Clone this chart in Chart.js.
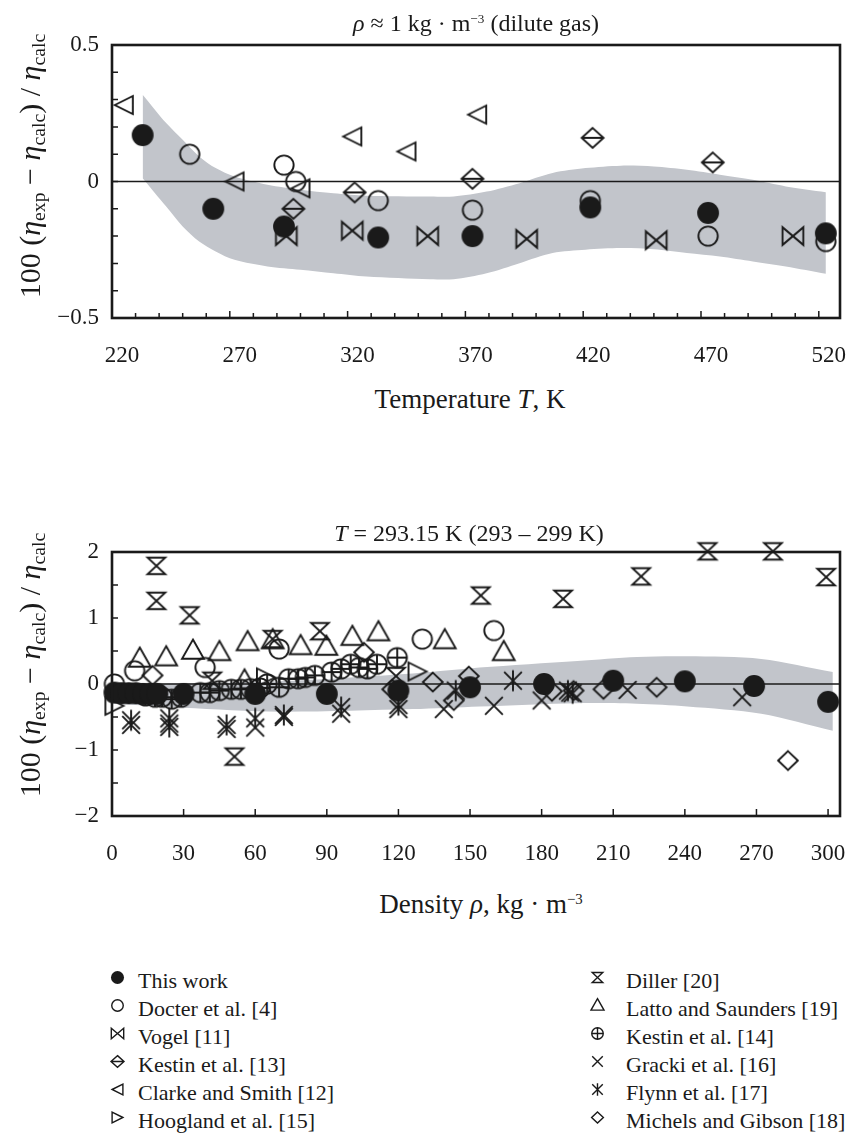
<!DOCTYPE html>
<html>
<head>
<meta charset="utf-8">
<script src="https://cdn.jsdelivr.net/npm/chart.js@4.4.1/dist/chart.umd.min.js"></script>
<style>
  body { margin: 0; background: #fff; }
  #wrap { position: relative; width: 849px; height: 1139px; font-family: 'Liberation Serif', 'Times New Roman', serif; color: #1a1a1a; overflow: hidden; }
  #wrap canvas.chart { position: absolute; left: 0; }
  .lbl { position: absolute; white-space: nowrap; transform: translate(-50%, -50%); line-height: 1; }
  .rot { transform: translate(-50%, -50%) rotate(-90deg); }
  sub, sup { font-size: 66%; line-height: 0; }
  sub { vertical-align: -0.25em; }
  sup { vertical-align: 0.6em; font-size: 55%; }
  .leg { position: absolute; font-size: 22px; line-height: 1; white-space: nowrap; }
</style>
</head>
<body>
<div id="wrap">
  <canvas id="c-top" class="chart" width="849" height="380" style="top:0;width:849px;height:380px;"></canvas>
  <canvas id="c-bot" class="chart" width="849" height="380" style="top:500px;width:849px;height:380px;"></canvas>

  <div class="lbl" style="left:476px;top:23px;font-size:24px;"><i>ρ</i> ≈ 1 kg · m<sup>−3</sup> (dilute gas)</div>
  <div class="lbl rot" style="left:30px;top:166px;font-size:30px;">100 (<i>η</i><sub>exp</sub> − <i>η</i><sub>calc</sub>) / <i>η</i><sub>calc</sub></div>
  <div class="lbl" style="left:470px;top:399px;font-size:27px;">Temperature <i>T</i>, K</div>

  <div class="lbl" style="left:469px;top:533px;font-size:24px;"><i>T</i> = 293.15 K (293 – 299 K)</div>
  <div class="lbl rot" style="left:30px;top:665px;font-size:30px;">100 (<i>η</i><sub>exp</sub> − <i>η</i><sub>calc</sub>) / <i>η</i><sub>calc</sub></div>
  <div class="lbl" style="left:481px;top:904px;font-size:27px;">Density <i>ρ</i>, kg · m<sup>−3</sup></div>

  <div id="legend"></div>
</div>

<script>
// ── Panel 1: dilute gas, deviations vs temperature ────────────────────────────
const T_WORK    = [233, 263, 293, 333, 373, 423, 473, 523];
const D_WORK_T  = [0.17, -0.10, -0.165, -0.205, -0.20, -0.095, -0.115, -0.19];
const T_DOCTER  = [253, 293, 298, 333, 373, 423, 473, 523];
const D_DOCTER_T = [0.10, 0.06, 0.0, -0.07, -0.105, -0.07, -0.20, -0.22];
const T_VOGEL   = [294, 322, 354, 396, 451, 509];
const D_VOGEL   = [-0.20, -0.18, -0.20, -0.21, -0.215, -0.20];
const T_KES13   = [297, 323, 373, 424, 475];
const D_KES13   = [-0.10, -0.04, 0.01, 0.16, 0.07];
const T_CLARKE  = [225, 272, 300, 322, 345, 375];
const D_CLARKE  = [0.28, 0.0, -0.025, 0.165, 0.11, 0.245];

const BAND_T    = [233, 243, 250, 257, 264, 272, 286, 300, 314, 328, 355, 365, 379, 393, 407, 421, 436, 450, 464, 478, 492, 506, 523];
const BAND_T_UP = [0.318, 0.214, 0.153, 0.092, 0.049, 0.018, -0.012, -0.03, -0.043, -0.052, -0.055, -0.055, -0.037, -0.006, 0.031, 0.049, 0.058, 0.055, 0.043, 0.025, 0.006, -0.018, -0.039];
const BAND_T_LO = [0.012, -0.092, -0.165, -0.22, -0.256, -0.287, -0.311, -0.323, -0.336, -0.348, -0.358, -0.358, -0.336, -0.299, -0.262, -0.25, -0.244, -0.248, -0.262, -0.275, -0.293, -0.311, -0.338];

// ── Panel 2: T = 293.15 K, deviations vs density ──────────────────────────────
const R_WORK    = [1, 4, 7, 10, 13, 16, 19, 30, 60, 90, 120, 150, 181, 210, 240, 269, 300];
const D_WORK_R  = [-0.13, -0.14, -0.14, -0.14, -0.15, -0.15, -0.15, -0.15, -0.15, -0.15, -0.10, -0.05, 0.0, 0.05, 0.04, -0.03, -0.27];
const R_DOCTER  = [1, 9.5, 39, 70, 130, 160];
const D_DOCTER_R = [0.0, 0.2, 0.25, 0.53, 0.68, 0.81];
const R_DILLER  = [18.6, 18.6, 32.5, 42, 51.3, 67.3, 87.1, 119, 154.5, 189, 221.7, 249.5, 276.9, 299.2];
const D_DILLER  = [1.79, 1.26, 1.04, 0.05, -1.10, 0.68, 0.80, 0.12, 1.34, 1.29, 1.63, 2.01, 2.01, 1.62];
const R_LATTO   = [11.6, 22.7, 33.9, 45, 55.5, 56.8, 67.3, 79, 89.8, 100.7, 111.6, 139.4, 164.1];
const D_LATTO   = [0.38, 0.40, 0.50, 0.48, 0.05, 0.63, 0.66, 0.57, 0.56, 0.71, 0.78, 0.66, 0.48];
const R_KES14   = [14, 18, 21, 25, 29, 37, 41, 45, 50, 54, 58, 62, 65, 70, 74, 78, 81, 85, 92, 96, 100, 103.5, 107, 111, 119.5];
const D_KES14   = [-0.18, -0.2, -0.2, -0.23, -0.2, -0.13, -0.13, -0.1, -0.08, -0.08, -0.07, -0.06, 0.0, -0.05, 0.08, 0.08, 0.1, 0.13, 0.18, 0.23, 0.3, 0.25, 0.23, 0.3, 0.4];
const R_GRACKI  = [8, 24, 48, 60, 72, 96, 120, 139, 160, 180, 192, 216, 264];
const D_GRACKI  = [-0.62, -0.6, -0.68, -0.66, -0.5, -0.45, -0.38, -0.38, -0.33, -0.25, -0.13, -0.09, -0.2];
const R_FLYNN   = [8, 24, 24, 48, 60, 72, 96, 120, 144, 168, 191, 193];
const D_FLYNN   = [-0.55, -0.52, -0.65, -0.62, -0.52, -0.47, -0.35, -0.32, -0.1, 0.05, -0.1, -0.14];
const R_MICHELS = [17, 105.6, 117.4, 134.4, 143.2, 149.5, 184.3, 193.4, 205.9, 228.2, 283.2];
const D_MICHELS = [0.13, 0.48, -0.08, 0.03, -0.25, 0.12, -0.11, -0.1, -0.08, -0.05, -1.16];
const R_HOOG    = [1, 64.5, 128];
const D_HOOG    = [-0.33, 0.1, 0.19];

const BAND_R    = [1, 30, 70, 126, 154, 195, 220, 241, 272, 302];
const BAND_R_UP = [0.0, 0.01, 0.04, 0.16, 0.25, 0.35, 0.41, 0.42, 0.38, 0.18];
const BAND_R_LO = [-0.30, -0.36, -0.42, -0.38, -0.34, -0.29, -0.30, -0.34, -0.45, -0.71];

const LEG_LEFT  = [['fcircle', 'This work'], ['ocircle', 'Docter et al. [4]'], ['bowtie', 'Vogel [11]'],
                   ['diamondBar', 'Kestin et al. [13]'], ['ltri', 'Clarke and Smith [12]'], ['rtri', 'Hoogland et al. [15]']];
const LEG_RIGHT = [['hourglass', 'Diller [20]'], ['utri', 'Latto and Saunders [19]'], ['cplus', 'Kestin et al. [14]'],
                   ['x', 'Gracki et al. [16]'], ['ast', 'Flynn et al. [17]'], ['diamond', 'Michels and Gibson [18]']];

const INK = '#1a1a1a';
const BAND = '#c2c5cb';
const SERIF = "'Liberation Serif', 'Times New Roman', serif";

const pts = (xs, ys) => xs.map((x, i) => ({ x, y: ys[i] }));
const minus = v => Math.abs(v) < 1e-9 ? '0' : (v < 0 ? '−' + String(Math.abs(v)) : String(v));
const near = (a) => Math.abs(a - Math.round(a)) < 1e-6;

// Marker glyphs, drawn once into small canvases and used as pointStyle
function sym(kind, k, lw) {
  const d = Math.ceil(28 * k + lw + 2);
  const c = document.createElement('canvas');
  c.width = c.height = d;
  const g = c.getContext('2d');
  g.translate(d / 2, d / 2);
  g.strokeStyle = INK; g.fillStyle = INK; g.lineWidth = lw;
  g.beginPath();
  let w, h, r;
  switch (kind) {
    case 'fcircle': g.arc(0, 0, 10.5 * k, 0, Math.PI * 2); g.fill(); return c;
    case 'ocircle': g.arc(0, 0, 9.3 * k, 0, Math.PI * 2); break;
    case 'ltri': w = 8.7 * k; g.moveTo(-w, 0); g.lineTo(w, -w); g.lineTo(w, w); g.closePath(); break;
    case 'rtri': w = 8.7 * k; g.moveTo(w, 0); g.lineTo(-w, -w); g.lineTo(-w, w); g.closePath(); break;
    case 'utri': g.moveTo(0, -11 * k); g.lineTo(10.5 * k, 7.5 * k); g.lineTo(-10.5 * k, 7.5 * k); g.closePath(); break;
    case 'bowtie': w = 10 * k; h = 8.5 * k; g.moveTo(-w, -h); g.lineTo(-w, h); g.lineTo(w, -h); g.lineTo(w, h); g.closePath(); break;
    case 'hourglass': w = 8.5 * k; h = 8 * k; g.moveTo(-w, -h); g.lineTo(w, -h); g.lineTo(-w, h); g.lineTo(w, h); g.closePath(); break;
    case 'diamondBar': w = 10.5 * k; h = 9.5 * k; g.moveTo(0, -h); g.lineTo(w, 0); g.lineTo(0, h); g.lineTo(-w, 0); g.closePath(); g.moveTo(-w, 0); g.lineTo(w, 0); break;
    case 'diamond': w = 9.5 * k; h = 9 * k; g.moveTo(0, -h); g.lineTo(w, 0); g.lineTo(0, h); g.lineTo(-w, 0); g.closePath(); break;
    case 'cplus': r = 9.3 * k; g.arc(0, 0, r, 0, Math.PI * 2); g.moveTo(-r, 0); g.lineTo(r, 0); g.moveTo(0, -r); g.lineTo(0, r); break;
    case 'x': w = 8.5 * k; g.moveTo(-w, -w); g.lineTo(w, w); g.moveTo(w, -w); g.lineTo(-w, w); break;
    case 'ast': w = 8.5 * k; g.moveTo(-w, -w); g.lineTo(w, w); g.moveTo(w, -w); g.lineTo(-w, w); g.moveTo(0, -10 * k); g.lineTo(0, 10 * k); break;
  }
  g.stroke();
  return c;
}

const MARK = {};
['fcircle', 'ocircle', 'ltri', 'rtri', 'utri', 'bowtie', 'hourglass', 'diamondBar', 'diamond', 'cplus', 'x', 'ast']
  .forEach(k => { MARK[k] = sym(k, 1.04, 1.9); });

// Frame, inward ticks and zero line
const framePlugin = {
  id: 'frame',
  beforeDatasetsDraw(chart) {
    const { ctx, chartArea: a, scales: { y } } = chart;
    const py = y.getPixelForValue(0);
    ctx.save();
    ctx.strokeStyle = INK; ctx.lineWidth = 1.6;
    ctx.beginPath(); ctx.moveTo(a.left, py); ctx.lineTo(a.right, py); ctx.stroke();
    ctx.restore();
  },
  afterDraw(chart) {
    const { ctx, chartArea: a, scales: { x, y } } = chart;
    ctx.save();
    ctx.strokeStyle = INK; ctx.lineWidth = 1.5;
    ctx.beginPath();
    x.ticks.forEach(t => {
      const px = x.getPixelForValue(t.value), len = t.label ? 7 : 5;
      ctx.moveTo(px, a.bottom); ctx.lineTo(px, a.bottom - len);
    });
    y.ticks.forEach(t => {
      const py = y.getPixelForValue(t.value);
      ctx.moveTo(a.left, py); ctx.lineTo(a.left + 6, py);
    });
    ctx.stroke();
    ctx.lineWidth = 2.6;
    ctx.strokeRect(a.left, a.top, a.right - a.left, a.bottom - a.top);
    ctx.restore();
  }
};

Chart.defaults.font.family = SERIF;
Chart.defaults.color = INK;

function bandSets(xs, up, lo) {
  return [
    { type: 'line', data: pts(xs, up), borderColor: 'rgba(0,0,0,0)', borderWidth: 0, pointRadius: 0,
      fill: '+1', backgroundColor: BAND, tension: 0.3, order: 20 },
    { type: 'line', data: pts(xs, lo), borderColor: 'rgba(0,0,0,0)', borderWidth: 0, pointRadius: 0,
      fill: false, tension: 0.3, order: 21 },
  ];
}

function series(xs, ys, kind, order) {
  return { data: pts(xs, ys), pointStyle: MARK[kind], pointRadius: 8, clip: false, order };
}

function panel(id, cfg) {
  const H = 380;
  new Chart(document.getElementById(id), {
    type: 'scatter',
    data: { datasets: cfg.datasets },
    options: {
      responsive: false,
      animation: false,
      events: [],
      layout: { padding: { left: 0, right: cfg.padRight, top: cfg.top, bottom: 0 } },
      plugins: { legend: { display: false }, tooltip: { enabled: false }, filler: { drawTime: 'beforeDatasetsDraw' } },
      scales: {
        x: {
          type: 'linear', min: cfg.xMin, max: cfg.xMax,
          grid: { display: false, drawTicks: false }, border: { display: false },
          ticks: { stepSize: cfg.xStep, includeBounds: false, autoSkip: false, maxRotation: 0, padding: 24,
                   labelOffset: cfg.labelOffset || 0,
                   font: { family: SERIF, size: 23 }, color: INK, callback: cfg.xLabel },
          // fixed plot box: no extra side padding for edge labels
          afterFit: s => { s.height = H - cfg.bottom; s.paddingLeft = 0; s.paddingRight = 0; },
        },
        y: {
          min: cfg.yMin, max: cfg.yMax,
          grid: { display: false, drawTicks: false }, border: { display: false },
          ticks: { stepSize: cfg.yStep, includeBounds: false, autoSkip: false, padding: 13,
                   font: { family: SERIF, size: 23 }, color: INK, callback: cfg.yLabel },
          afterFit: s => { s.width = 112; s.paddingTop = 0; s.paddingBottom = 0; },
        },
      },
    },
    plugins: [framePlugin],
  });
}

panel('c-top', {
  top: 45, bottom: 318, padRight: 8, labelOffset: 10,
  xMin: 220, xMax: 529, xStep: 10, yMin: -0.5, yMax: 0.5, yStep: 0.1,
  xLabel: v => near((v - 220) / 50) ? String(Math.round(v)) : '',
  yLabel: v => near(v * 2) ? minus(Math.round(v * 2) / 2) : '',
  datasets: [
    series(T_WORK, D_WORK_T, 'fcircle', 0),
    series(T_DOCTER, D_DOCTER_T, 'ocircle', 2),
    series(T_VOGEL, D_VOGEL, 'bowtie', 3),
    series(T_KES13, D_KES13, 'diamondBar', 4),
    series(T_CLARKE, D_CLARKE, 'ltri', 5),
    ...bandSets(BAND_T, BAND_T_UP, BAND_T_LO),
  ],
});

panel('c-bot', {
  top: 52, bottom: 316, padRight: 7,
  xMin: 0, xMax: 305, xStep: 30, yMin: -2, yMax: 2, yStep: 0.5,
  xLabel: v => String(Math.round(v)),
  yLabel: v => near(v) ? minus(Math.round(v)) : '',
  datasets: [
    series(R_WORK, D_WORK_R, 'fcircle', 0),
    series(R_DOCTER, D_DOCTER_R, 'ocircle', 2),
    series(R_DILLER, D_DILLER, 'hourglass', 3),
    series(R_LATTO, D_LATTO, 'utri', 4),
    series(R_KES14, D_KES14, 'cplus', 5),
    series(R_GRACKI, D_GRACKI, 'x', 6),
    series(R_FLYNN, D_FLYNN, 'ast', 7),
    series(R_MICHELS, D_MICHELS, 'diamond', 8),
    series(R_HOOG, D_HOOG, 'rtri', 9),
    ...bandSets(BAND_R, BAND_R_UP, BAND_R_LO),
  ],
});

// ── Legend (two columns) ──────────────────────────────────────────────────────
const leg = document.getElementById('legend');
function legCol(items, mx, tx) {
  items.forEach(([kind, name], i) => {
    const cy = 981 + i * 28;
    const m = sym(kind, 0.62, 1.4);
    m.style.left = (mx - m.width / 2) + 'px';
    m.style.top = (cy - 4 - m.height / 2) + 'px';
    m.style.position = 'absolute';
    leg.appendChild(m);
    const t = document.createElement('div');
    t.className = 'leg';
    t.style.left = tx + 'px';
    t.style.top = (cy - 11) + 'px';
    t.textContent = name;
    leg.appendChild(t);
  });
}
legCol(LEG_LEFT, 117, 138);
legCol(LEG_RIGHT, 597, 626);
</script>
</body>
</html>
